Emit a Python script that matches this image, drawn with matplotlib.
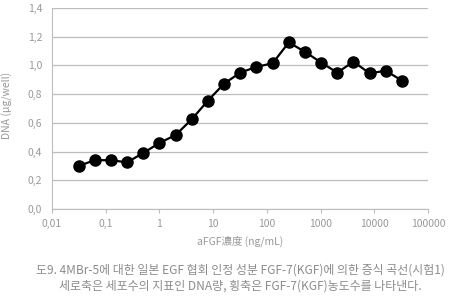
# DNA growth curve vs aFGF concentration
import matplotlib
matplotlib.use("Agg")
import matplotlib.pyplot as plt
import numpy as np

plt.rcParams['font.family'] = ['Noto Sans CJK KR', 'DejaVu Sans']

# concentration doubles from 1/32 up to 32768 ng/mL
conc = [1/32, 1/16, 1/8, 1/4, 1/2, 1, 2, 4, 8, 16, 32, 64, 128,
        256, 512, 1024, 2048, 4096, 8192, 16384, 32768]
dna = [0.30, 0.34, 0.34, 0.325, 0.39, 0.46, 0.515, 0.625, 0.755, 0.873,
       0.95, 0.99, 1.015, 1.16, 1.095, 1.02, 0.95, 1.026, 0.945, 0.963, 0.894]

xticks = [0.01, 0.1, 1, 10, 100, 1000, 10000, 100000]
xtick_labels = ["0,01", "0,1", "1", "10", "100", "1000", "10000", "100000"]
yticks = [0.0, 0.2, 0.4, 0.6, 0.8, 1.0, 1.2, 1.4]
ytick_labels = ["0,0", "0,2", "0,4", "0,6", "0,8", "1,0", "1,2", "1,4"]

caption = ("도9. 4MBr-5에 대한 일본 EGF 협회 인정 성분 FGF-7(KGF)에 의한 증식 곡선(시험1)\n"
           "세로축은 세포수의 지표인 DNA량, 횡축은 FGF-7(KGF)농도수를 나타낸다.")

txt = "#999999"

fig = plt.figure(figsize=(4.55, 3.05), dpi=100)
ax = fig.add_axes([52/455, 1 - 209/305, 376/455, 201/305])

ax.plot(conc, dna, color="black", lw=1.6, marker="o", markersize=8, zorder=3)

ax.set_xscale("log")
ax.set_xlim(0.01, 100000)
ax.set_ylim(0, 1.4)
ax.set_xticks(xticks)
ax.set_xticklabels(xtick_labels)
ax.minorticks_off()
ax.set_yticks(yticks)
ax.set_yticklabels(ytick_labels)

ax.grid(axis="y", color="#bdbdbd", lw=0.9)
ax.set_axisbelow(True)
for s in ["top", "right"]:
    ax.spines[s].set_visible(False)
ax.spines["left"].set_color("#bdbdbd")
ax.spines["bottom"].set_color("#bdbdbd")
ax.tick_params(axis="y", length=0, pad=7, labelsize=7.5, labelcolor=txt)
ax.tick_params(axis="x", length=3, color="#bdbdbd", pad=4, labelsize=7.5, labelcolor=txt)

ax.set_xlabel("aFGF濃度 (ng/mL)", fontsize=7.5, color=txt, labelpad=5)
fig.text(7/455, 1 - 105/305, "DNA (μg/well)", rotation=90, fontsize=7.5,
         color=txt, ha="center", va="center")

fig.text(240/455, 1 - 278/305, caption, fontsize=8.6, color="#8c8c8c",
         ha="center", va="center", linespacing=1.3)

fig.savefig("out.png", dpi=100)
